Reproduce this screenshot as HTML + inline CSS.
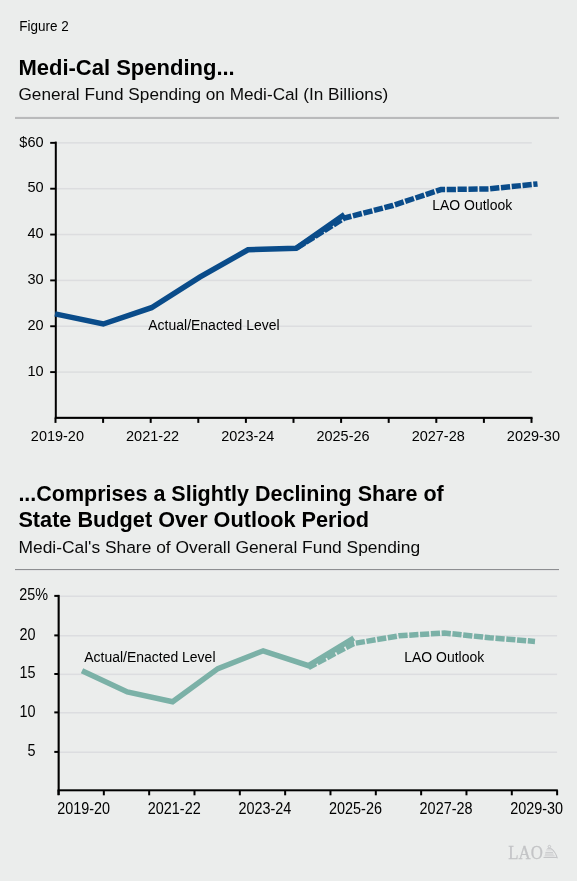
<!DOCTYPE html>
<html><head><meta charset="utf-8"><style>
html,body{margin:0;padding:0;background:#ebedec;}
body{width:577px;height:881px;overflow:hidden;}
svg{display:block;font-family:"Liberation Sans", sans-serif;will-change:transform;}
</style></head><body>
<svg width="577" height="881" viewBox="0 0 577 881">
<rect width="577" height="881" fill="#ebedec"/>
<text transform="translate(19.20,30.70) scale(0.9,1)" font-size="15.0" fill="#000">Figure 2</text>
<text x="18.40" y="74.80" font-size="22" font-weight="bold" fill="#000">Medi-Cal Spending...</text>
<text x="18.50" y="100.20" font-size="17.2" fill="#0a0a0a">General Fund Spending on Medi-Cal (In Billions)</text>
<rect x="15" y="116.9" width="544" height="2.1" fill="#b9babb"/>
<rect x="55.8" y="371.35" width="476.00" height="1.5" fill="#dcdddf"/>
<rect x="55.8" y="325.50" width="476.00" height="1.5" fill="#dcdddf"/>
<rect x="55.8" y="279.65" width="476.00" height="1.5" fill="#dcdddf"/>
<rect x="55.8" y="233.80" width="476.00" height="1.5" fill="#dcdddf"/>
<rect x="55.8" y="187.95" width="476.00" height="1.5" fill="#dcdddf"/>
<rect x="55.8" y="142.10" width="476.00" height="1.5" fill="#dcdddf"/>
<text transform="translate(43.60,375.85) scale(0.95,1)" font-size="15.3" text-anchor="end" fill="#000">10</text>
<rect x="50.2" y="371.15" width="5.6" height="1.9" fill="#000"/>
<text transform="translate(43.60,330.00) scale(0.95,1)" font-size="15.3" text-anchor="end" fill="#000">20</text>
<rect x="50.2" y="325.30" width="5.6" height="1.9" fill="#000"/>
<text transform="translate(43.60,284.15) scale(0.95,1)" font-size="15.3" text-anchor="end" fill="#000">30</text>
<rect x="50.2" y="279.45" width="5.6" height="1.9" fill="#000"/>
<text transform="translate(43.60,238.30) scale(0.95,1)" font-size="15.3" text-anchor="end" fill="#000">40</text>
<rect x="50.2" y="233.60" width="5.6" height="1.9" fill="#000"/>
<text transform="translate(43.60,192.45) scale(0.95,1)" font-size="15.3" text-anchor="end" fill="#000">50</text>
<rect x="50.2" y="187.75" width="5.6" height="1.9" fill="#000"/>
<text transform="translate(43.60,146.60) scale(0.95,1)" font-size="15.3" text-anchor="end" fill="#000">&#36;60</text>
<rect x="50.2" y="141.90" width="5.6" height="1.9" fill="#000"/>
<rect x="54.8" y="141.60" width="2" height="276.10" fill="#000"/>
<rect x="54.8" y="416.80" width="477.70" height="2.1" fill="#000"/>
<rect x="54.50" y="417.70" width="2" height="5.2" fill="#000"/>
<rect x="102.10" y="417.70" width="2" height="5.2" fill="#000"/>
<rect x="149.70" y="417.70" width="2" height="5.2" fill="#000"/>
<rect x="197.30" y="417.70" width="2" height="5.2" fill="#000"/>
<rect x="244.90" y="417.70" width="2" height="5.2" fill="#000"/>
<rect x="292.50" y="417.70" width="2" height="5.2" fill="#000"/>
<rect x="340.10" y="417.70" width="2" height="5.2" fill="#000"/>
<rect x="387.70" y="417.70" width="2" height="5.2" fill="#000"/>
<rect x="435.30" y="417.70" width="2" height="5.2" fill="#000"/>
<rect x="482.90" y="417.70" width="2" height="5.2" fill="#000"/>
<rect x="530.50" y="417.70" width="2" height="5.2" fill="#000"/>
<text transform="translate(57.40,441.00) scale(0.94,1)" font-size="15.4" text-anchor="middle" fill="#000">2019-20</text>
<text transform="translate(152.60,441.00) scale(0.94,1)" font-size="15.4" text-anchor="middle" fill="#000">2021-22</text>
<text transform="translate(247.80,441.00) scale(0.94,1)" font-size="15.4" text-anchor="middle" fill="#000">2023-24</text>
<text transform="translate(343.00,441.00) scale(0.94,1)" font-size="15.4" text-anchor="middle" fill="#000">2025-26</text>
<text transform="translate(438.20,441.00) scale(0.94,1)" font-size="15.4" text-anchor="middle" fill="#000">2027-28</text>
<text transform="translate(533.40,441.00) scale(0.94,1)" font-size="15.4" text-anchor="middle" fill="#000">2029-30</text>
<polyline points="55.00,313.90 103.25,324.00 151.50,307.70 199.75,277.20 248.00,249.80 296.25,248.20 344.50,214.50" fill="none" stroke="#0a4c8a" stroke-width="5.5" stroke-linejoin="miter"/>
<polyline points="296.25,248.20 344.50,218.00 392.75,205.50 441.00,189.60 489.25,188.90 537.50,183.90" fill="none" stroke="#0a4c8a" stroke-width="5.5" stroke-dasharray="9.227 1.628" stroke-dashoffset="10.396" stroke-linejoin="miter"/>
<text transform="translate(148.30,329.80) scale(0.92,1)" font-size="15.2" fill="#000">Actual/Enacted Level</text>
<text transform="translate(432.20,209.70) scale(0.92,1)" font-size="15.2" fill="#000">LAO Outlook</text>
<text x="18.40" y="500.80" font-size="21.5" font-weight="bold" fill="#000">...Comprises a Slightly Declining Share of</text>
<text x="18.40" y="526.50" font-size="21.7" font-weight="bold" fill="#000">State Budget Over Outlook Period</text>
<text x="18.50" y="552.80" font-size="17.4" fill="#0a0a0a">Medi-Cal's Share of Overall General Fund Spending</text>
<rect x="15" y="569" width="544" height="1.1" fill="#8d8e91"/>
<rect x="58.7" y="751.50" width="498.40" height="1.5" fill="#dcdde0"/>
<rect x="58.7" y="712.00" width="498.40" height="1.5" fill="#dcdde0"/>
<rect x="58.7" y="673.60" width="498.40" height="1.5" fill="#dcdde0"/>
<rect x="58.7" y="635.00" width="498.40" height="1.5" fill="#dcdde0"/>
<rect x="58.7" y="595.50" width="498.40" height="1.5" fill="#dcdde0"/>
<text transform="translate(35.60,756.20) scale(0.925,1)" font-size="15.6" text-anchor="end" fill="#000">5</text>
<rect x="54.3" y="750.90" width="4.4" height="2" fill="#000"/>
<text transform="translate(35.60,716.70) scale(0.925,1)" font-size="15.6" text-anchor="end" fill="#000">10</text>
<rect x="54.3" y="711.40" width="4.4" height="2" fill="#000"/>
<text transform="translate(35.60,678.30) scale(0.925,1)" font-size="15.6" text-anchor="end" fill="#000">15</text>
<rect x="54.3" y="673.00" width="4.4" height="2" fill="#000"/>
<text transform="translate(35.60,639.70) scale(0.925,1)" font-size="15.6" text-anchor="end" fill="#000">20</text>
<rect x="54.3" y="634.40" width="4.4" height="2" fill="#000"/>
<text transform="translate(19.20,600.20) scale(0.925,1)" font-size="15.6" fill="#000">25%</text>
<rect x="54.3" y="594.90" width="4.4" height="2" fill="#000"/>
<rect x="57.6" y="594.90" width="2.1" height="200.10" fill="#000"/>
<rect x="57.6" y="789.30" width="500.20" height="2" fill="#000"/>
<rect x="57.50" y="790.30" width="2" height="5" fill="#000"/>
<rect x="102.83" y="790.30" width="2" height="5" fill="#000"/>
<rect x="148.16" y="790.30" width="2" height="5" fill="#000"/>
<rect x="193.49" y="790.30" width="2" height="5" fill="#000"/>
<rect x="238.82" y="790.30" width="2" height="5" fill="#000"/>
<rect x="284.15" y="790.30" width="2" height="5" fill="#000"/>
<rect x="329.48" y="790.30" width="2" height="5" fill="#000"/>
<rect x="374.81" y="790.30" width="2" height="5" fill="#000"/>
<rect x="420.14" y="790.30" width="2" height="5" fill="#000"/>
<rect x="465.47" y="790.30" width="2" height="5" fill="#000"/>
<rect x="510.80" y="790.30" width="2" height="5" fill="#000"/>
<rect x="556.13" y="790.30" width="2" height="5" fill="#000"/>
<text transform="translate(83.65,814.00) scale(0.925,1)" font-size="15.6" text-anchor="middle" fill="#000">2019-20</text>
<text transform="translate(174.25,814.00) scale(0.925,1)" font-size="15.6" text-anchor="middle" fill="#000">2021-22</text>
<text transform="translate(264.85,814.00) scale(0.925,1)" font-size="15.6" text-anchor="middle" fill="#000">2023-24</text>
<text transform="translate(355.45,814.00) scale(0.925,1)" font-size="15.6" text-anchor="middle" fill="#000">2025-26</text>
<text transform="translate(446.05,814.00) scale(0.925,1)" font-size="15.6" text-anchor="middle" fill="#000">2027-28</text>
<text transform="translate(536.65,814.00) scale(0.925,1)" font-size="15.6" text-anchor="middle" fill="#000">2029-30</text>
<polyline points="82.00,670.70 127.30,692.00 172.60,701.70 217.90,668.60 263.20,650.80 308.50,665.70 353.80,638.00" fill="none" stroke="#7bb1a7" stroke-width="5.5" stroke-linejoin="miter"/>
<polyline points="308.50,667.50 353.80,643.50 399.10,635.80 444.40,633.00 489.70,637.80 535.00,641.40" fill="none" stroke="#7bb1a7" stroke-width="5.5" stroke-dasharray="9.195 1.623" stroke-dashoffset="0.794" stroke-linejoin="miter"/>
<text transform="translate(84.20,661.80) scale(0.92,1)" font-size="15.2" fill="#000">Actual/Enacted Level</text>
<text transform="translate(404.20,661.80) scale(0.92,1)" font-size="15.2" fill="#000">LAO Outlook</text>
<g transform="translate(508.3,858.7) scale(0.875,1)"><text x="0" y="0" font-family="Liberation Serif, serif" font-size="19.2" fill="#c3c4c6" stroke="#c3c4c6" stroke-width="0.25">LAO</text></g>
<circle cx="549.4" cy="846.6" r="1.25" fill="none" stroke="#c5c6c8" stroke-width="1"/>
<path d="M551.2,848.6 Q555.3,851.5 557.4,858.3" fill="none" stroke="#c5c6c8" stroke-width="1.1"/>
<rect x="547.2" y="848.2" width="4.2" height="0.8" fill="#c5c6c8"/>
<rect x="546.2" y="849.6" width="5.6" height="0.7" fill="#c5c6c8"/>
<rect x="545.4" y="851.9" width="7.6" height="0.9" fill="#c5c6c8"/>
<rect x="545.0" y="853.6" width="8.6" height="0.9" fill="#c5c6c8"/>
<rect x="544.6" y="855.5" width="10" height="0.7" fill="#c5c6c8"/>
<rect x="543.5" y="856.9" width="13.6" height="1.1" fill="#c5c6c8"/>
</svg>
</body></html>
